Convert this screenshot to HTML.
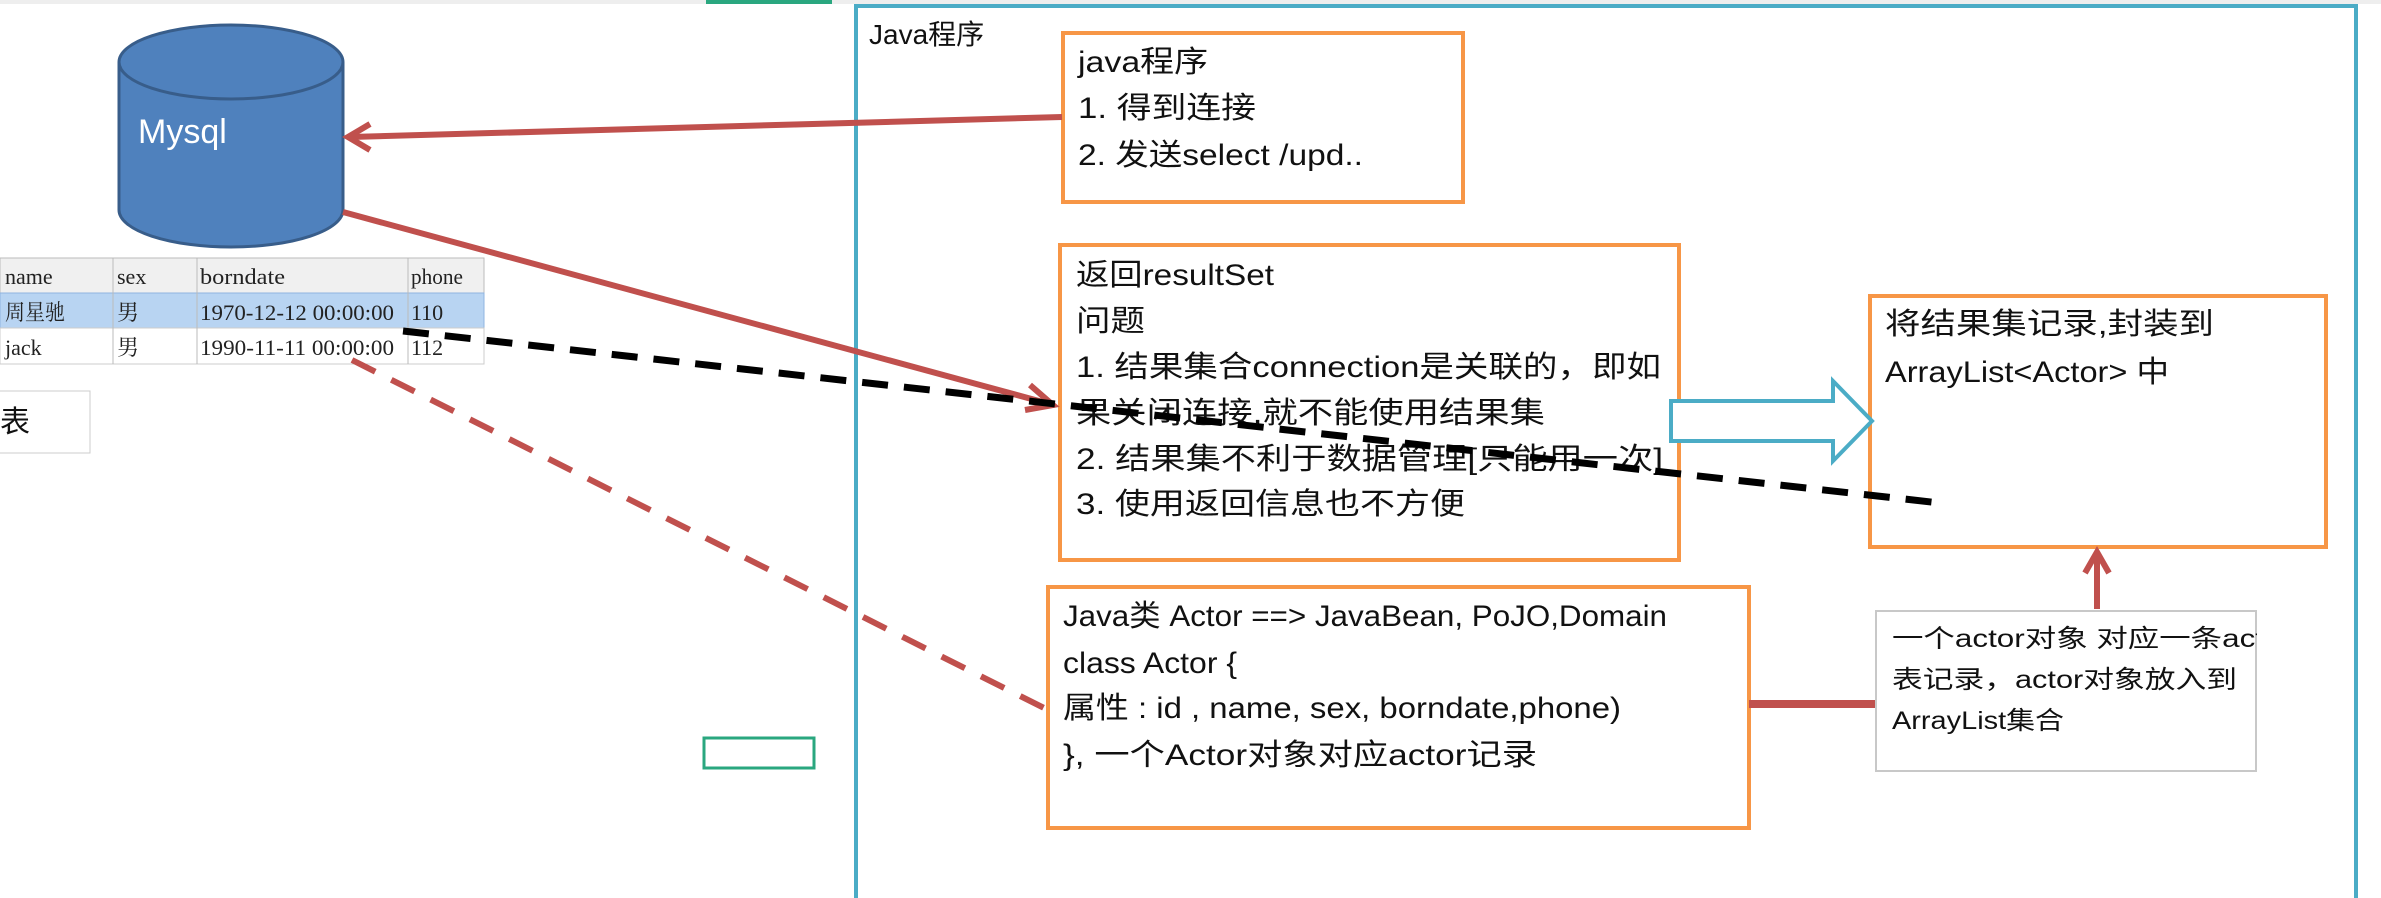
<!DOCTYPE html>
<html><head><meta charset="utf-8"><style>
html,body{margin:0;padding:0;background:#fff;width:2381px;height:898px;overflow:hidden}
svg text{font-family:"Liberation Sans","Noto Sans CJK SC",sans-serif;fill:#111}
.mono{font-family:"Liberation Serif","Noto Serif CJK SC",serif;fill:#222}
</style></head><body>
<svg width="2381" height="898" viewBox="0 0 2381 898" xmlns="http://www.w3.org/2000/svg">
<rect x="0" y="0" width="2381" height="4" fill="#eeeeee"/>
<rect x="706" y="0" width="126" height="4" fill="#2aa77f"/>
<rect x="856" y="6" width="1500" height="900" fill="none" stroke="#4bacc6" stroke-width="4"/>
<text x="869" y="44" font-size="28">Java程序</text>
<path d="M119,62 L119,210 A112,37 0 0 0 343,210 L343,62" fill="#4f81bd" stroke="#385d8a" stroke-width="3"/>
<ellipse cx="231" cy="62" rx="112" ry="37" fill="#4f81bd" stroke="#385d8a" stroke-width="3"/>
<text x="138" y="143" font-size="34" style="fill:#fff">Mysql</text>
<rect x="0" y="258" width="484" height="106" fill="#fff" stroke="#ccc"/>
<rect x="0" y="258" width="484" height="35" fill="#f0f0f0" stroke="#bbb"/>
<rect x="0" y="293" width="484" height="35" fill="#b8d4f2" stroke="#8fb4e0"/>
<rect x="0" y="328" width="484" height="36" fill="#fff" stroke="#ccc"/>
<g stroke="#bbb"><line x1="113" y1="258" x2="113" y2="364"/><line x1="197" y1="258" x2="197" y2="364"/><line x1="408" y1="258" x2="408" y2="364"/></g>
<g font-size="22">
<text x="5" y="284" class="mono">name</text><text x="117" y="284" class="mono">sex</text><text x="200" y="284" class="mono" textLength="85" lengthAdjust="spacingAndGlyphs">borndate</text><text x="411" y="284" class="mono" textLength="52" lengthAdjust="spacingAndGlyphs">phone</text>
<text x="5" y="320" class="mono" textLength="60" lengthAdjust="spacingAndGlyphs">周星驰</text><text x="117" y="320" class="mono">男</text><text x="200" y="320" class="mono" textLength="194" lengthAdjust="spacingAndGlyphs">1970-12-12 00:00:00</text><text x="411" y="320" class="mono">110</text>
<text x="5" y="355" class="mono">jack</text><text x="117" y="355" class="mono">男</text><text x="200" y="355" class="mono" textLength="194" lengthAdjust="spacingAndGlyphs">1990-11-11 00:00:00</text><text x="411" y="355" class="mono">112</text>
</g>
<rect x="-2" y="391" width="92" height="62" fill="#fff" stroke="#ccc"/>
<text x="0" y="432" font-size="30">表</text>
<rect x="704" y="738" width="110" height="30" fill="none" stroke="#2aa77f" stroke-width="3"/>
<rect x="1063" y="33" width="400" height="169" fill="#fff" stroke="#f79646" stroke-width="4"/>
<g font-size="30"><text x="1078" y="72" textLength="130" lengthAdjust="spacingAndGlyphs">java程序</text><text x="1078" y="118" textLength="178" lengthAdjust="spacingAndGlyphs">1. 得到连接</text><text x="1078" y="165" textLength="285" lengthAdjust="spacingAndGlyphs">2. 发送select /upd..</text></g>
<rect x="1060" y="245" width="619" height="315" fill="#fff" stroke="#f79646" stroke-width="4"/>
<g font-size="30"><text x="1076" y="285" textLength="198" lengthAdjust="spacingAndGlyphs">返回resultSet</text><text x="1076" y="331" textLength="69" lengthAdjust="spacingAndGlyphs">问题</text>
<text x="1076" y="377" textLength="585" lengthAdjust="spacingAndGlyphs">1. 结果集合connection是关联的，即如</text><text x="1076" y="423" textLength="469" lengthAdjust="spacingAndGlyphs">果关闭连接,就不能使用结果集</text>
<text x="1076" y="469" textLength="587" lengthAdjust="spacingAndGlyphs">2. 结果集不利于数据管理[只能用一次]</text><text x="1076" y="514" textLength="389" lengthAdjust="spacingAndGlyphs">3. 使用返回信息也不方便</text></g>
<rect x="1870" y="296" width="456" height="251" fill="#fff" stroke="#f79646" stroke-width="4"/>
<g font-size="30"><text x="1885" y="334" textLength="329" lengthAdjust="spacingAndGlyphs">将结果集记录,封装到</text><text x="1885" y="382" textLength="284" lengthAdjust="spacingAndGlyphs">ArrayList&lt;Actor&gt; 中</text></g>
<rect x="1048" y="587" width="701" height="241" fill="#fff" stroke="#f79646" stroke-width="4"/>
<g font-size="30"><text x="1063" y="626" textLength="604" lengthAdjust="spacingAndGlyphs">Java类 Actor  ==&gt; JavaBean, PoJO,Domain</text><text x="1063" y="673" textLength="174" lengthAdjust="spacingAndGlyphs">class Actor {</text>
<text x="1063" y="718" textLength="558" lengthAdjust="spacingAndGlyphs">属性 : id , name, sex, borndate,phone)</text><text x="1063" y="765" textLength="474" lengthAdjust="spacingAndGlyphs">}, 一个Actor对象对应actor记录</text></g>
<svg x="1875" y="610" width="382" height="162" overflow="hidden">
<rect x="1" y="1" width="380" height="160" fill="#fff" stroke="#c8c8c8" stroke-width="2"/>
<g font-size="25"><text x="17" y="37" textLength="400" lengthAdjust="spacingAndGlyphs">一个actor对象 对应一条actor</text><text x="17" y="78" textLength="345" lengthAdjust="spacingAndGlyphs">表记录，actor对象放入到</text><text x="17" y="119" textLength="172" lengthAdjust="spacingAndGlyphs">ArrayList集合</text></g>
</svg>
<path d="M1671,401 L1833,401 L1833,381 L1872,421 L1833,461 L1833,441 L1671,441 Z" fill="#fff" stroke="#4bacc6" stroke-width="4"/>
<g stroke="#c0504d" stroke-width="6" fill="none">
<line x1="1062" y1="117" x2="350" y2="137"/>
<polyline points="370,124 348,137 370,150"/>
<line x1="343" y1="212" x2="1050" y2="404"/>
<polyline points="1030,385 1053,405 1025,410"/>
<line x1="1749" y1="704" x2="1875" y2="704" stroke-width="8"/>
<line x1="2097" y1="609" x2="2097" y2="553"/>
<polyline points="2085,573 2097,552 2109,573"/>
<line x1="352" y1="360" x2="1044" y2="708" stroke-dasharray="26,18"/>
</g>
<line x1="403" y1="331" x2="1940" y2="503" stroke="#000" stroke-width="7" stroke-dasharray="26,16"/>
</svg>
</body></html>
